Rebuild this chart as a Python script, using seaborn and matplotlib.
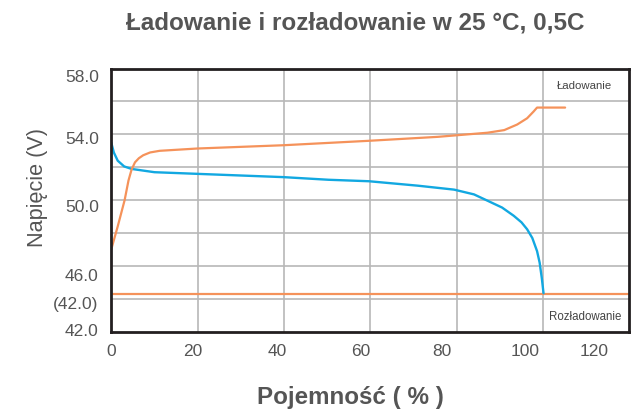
import matplotlib
matplotlib.use("Agg")
import matplotlib.pyplot as plt
import seaborn as sns
import pandas as pd

# (pojemnosc %, napiecie w skali rysunku)
charge_x = [0, 1.5, 3.1, 4.0, 4.7, 5.5, 6.4, 7.4, 9.0, 11.2, 19.9, 39.9, 59.7, 75.6, 87.1, 91.0, 94.0, 96.3, 97.8, 98.6, 105.1]
charge_v = [47.0, 48.4, 50.0, 51.2, 51.85, 52.3, 52.55, 52.73, 52.9, 53.0, 53.14, 53.34, 53.61, 53.85, 54.1, 54.26, 54.6, 54.98, 55.39, 55.63, 55.63]

discharge_x = [0, 0.6, 1.5, 3.0, 4.7, 10, 19.9, 39.9, 50.3, 59.7, 71, 79.4, 84, 87.1, 90.5, 93.2, 95.0, 96.3, 97.5, 98.6, 99.2, 99.7, 100.1]
discharge_v = [53.5, 52.9, 52.4, 52.05, 51.9, 51.7, 51.6, 51.4, 51.24, 51.15, 50.88, 50.64, 50.35, 49.97, 49.55, 49.05, 48.65, 48.23, 47.7, 46.9, 46.2, 45.26, 44.34]

cutoff_x = [0, 120]
cutoff_v = [44.3, 44.3]

grid_x = [20, 40, 60, 80, 100]
grid_y = [44, 46, 48, 50, 52, 54, 56]

y_tick_pos = [57.53, 53.79, 49.66, 45.43, 43.73, 42.12]
y_tick_labels = ["58.0", "54.0", "50.0", "46.0", "(42.0)", "42.0"]
x_tick_pos = [0, 18.9, 38.4, 57.7, 76.5, 95.8, 111.9]
x_tick_labels = ["0", "20", "40", "60", "80", "100", "120"]

orange = "#F5925A"
blue = "#12A8E1"
grey_txt = "#555555"

sns.set_style("white")
plt.rcParams['font.family'] = ['Liberation Sans', 'DejaVu Sans']

fig = plt.figure(figsize=(6.32, 4.15), dpi=100)
ax = fig.add_axes([0.176, 0.2007, 0.82, 0.634])

# siatka
for gx in grid_x:
    ax.axvline(gx, color="#b8b8b8", lw=1.2, zorder=0)
for gy in grid_y:
    ax.axhline(gy, color="#b8b8b8", lw=1.2, zorder=0)

df_c = pd.DataFrame({"x": charge_x, "v": charge_v})
df_d = pd.DataFrame({"x": discharge_x, "v": discharge_v})
df_k = pd.DataFrame({"x": cutoff_x, "v": cutoff_v})

sns.lineplot(data=df_k, x="x", y="v", ax=ax, color=orange, lw=1.6, sort=False)
sns.lineplot(data=df_d, x="x", y="v", ax=ax, color=blue, lw=1.7, sort=False)
sns.lineplot(data=df_c, x="x", y="v", ax=ax, color=orange, lw=1.6, sort=False)

ax.grid(False)
ax.set_yticks(y_tick_pos)
ax.set_yticklabels(y_tick_labels)
ax.set_xticks(x_tick_pos)
ax.set_xticklabels(x_tick_labels)
ax.set_xlim(0, 120)
ax.set_ylim(42, 58)
ax.tick_params(which="both", length=0)
ax.tick_params(which="major", labelsize=12.5, labelcolor=grey_txt)
ax.tick_params(axis="y", pad=9)
ax.tick_params(axis="x", pad=9)
ax.set_xlabel("")
ax.set_ylabel("")

for s in ax.spines.values():
    s.set_color("#231f20")
    s.set_linewidth(2)

fig.text(0.554, 0.041, "Pojemność ( % )", fontsize=17.4, fontweight="bold",
         color=grey_txt, ha="center", va="center")
fig.text(0.060, 0.549, "Napięcie (V)", fontsize=15.6, color=grey_txt,
         rotation=90, ha="center", va="center")

ax.text(109.7, 56.92, "Ładowanie", fontsize=8.2, color="#444444", ha="center", va="center")
ax.text(109.7, 42.9, "Rozładowanie", fontsize=8.3, color="#444444", ha="center", va="center")

fig.text(0.562, 0.945, "Ładowanie i rozładowanie w 25 °C, 0,5C", fontsize=17.5,
         fontweight="bold", color=grey_txt, ha="center", va="center")

fig.savefig("out.png", dpi=100)
